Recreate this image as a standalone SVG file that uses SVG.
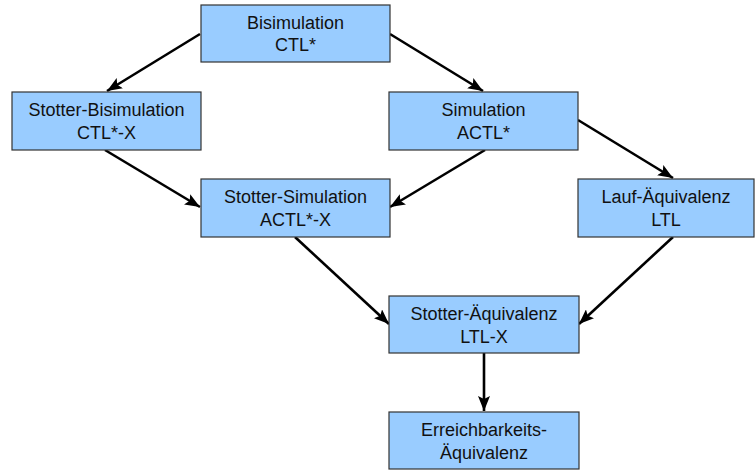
<svg xmlns="http://www.w3.org/2000/svg" width="755" height="470" viewBox="0 0 755 470">
<style>
.box{fill:#99ccff;stroke:#333333;stroke-width:1.2}
.t{font-family:"Liberation Sans",Arial,sans-serif;font-size:18px;fill:#111111;text-anchor:middle}
.c{stroke:#000000;stroke-width:2.6;fill:none;marker-end:url(#ah)}
</style>
<defs>
<marker id="ah" markerUnits="userSpaceOnUse" markerWidth="16" markerHeight="12" viewBox="0 0 16 12" refX="15" refY="6" orient="auto">
<path d="M0,0 L15,6 L0,12 L3,6 Z" fill="#000000"/>
</marker>
</defs>
<rect width="755" height="470" fill="#ffffff"/>
<g id="connectors">
<line class="c" x1="200" y1="34" x2="107" y2="91"/>
<line class="c" x1="390" y1="34" x2="483" y2="91"/>
<line class="c" x1="105" y1="150" x2="200" y2="207"/>
<line class="c" x1="485" y1="150" x2="390" y2="207"/>
<line class="c" x1="578" y1="120" x2="673" y2="178"/>
<line class="c" x1="295" y1="237" x2="389" y2="324"/>
<line class="c" x1="673" y1="237" x2="579" y2="324"/>
<line class="c" x1="484" y1="353" x2="484" y2="411"/>
</g>
<g id="bisimulation">
<rect class="box" x="201" y="5" width="189" height="57"/>
<text class="t" x="295.5" y="29">Bisimulation</text>
<text class="t" x="295.5" y="51">CTL*</text>
</g>
<g id="stotter-bisimulation">
<rect class="box" x="12" y="92" width="189" height="58"/>
<text class="t" x="106.5" y="116">Stotter-Bisimulation</text>
<text class="t" x="106.5" y="139">CTL*-X</text>
</g>
<g id="simulation">
<rect class="box" x="389" y="92" width="189" height="58"/>
<text class="t" x="483.5" y="116">Simulation</text>
<text class="t" x="483.5" y="139">ACTL*</text>
</g>
<g id="stotter-simulation">
<rect class="box" x="201" y="179" width="189" height="58"/>
<text class="t" x="295.5" y="203">Stotter-Simulation</text>
<text class="t" x="295.5" y="226">ACTL*-X</text>
</g>
<g id="lauf-aequivalenz">
<rect class="box" x="578" y="179" width="176" height="58"/>
<text class="t" x="666" y="203">Lauf-Äquivalenz</text>
<text class="t" x="666" y="226">LTL</text>
</g>
<g id="stotter-aequivalenz">
<rect class="box" x="389" y="296" width="190" height="57"/>
<text class="t" x="484" y="320">Stotter-Äquivalenz</text>
<text class="t" x="484" y="343">LTL-X</text>
</g>
<g id="erreichbarkeits-aequivalenz">
<rect class="box" x="389" y="412" width="190" height="57"/>
<text class="t" x="484" y="436">Erreichbarkeits-</text>
<text class="t" x="484" y="459">Äquivalenz</text>
</g>
</svg>
